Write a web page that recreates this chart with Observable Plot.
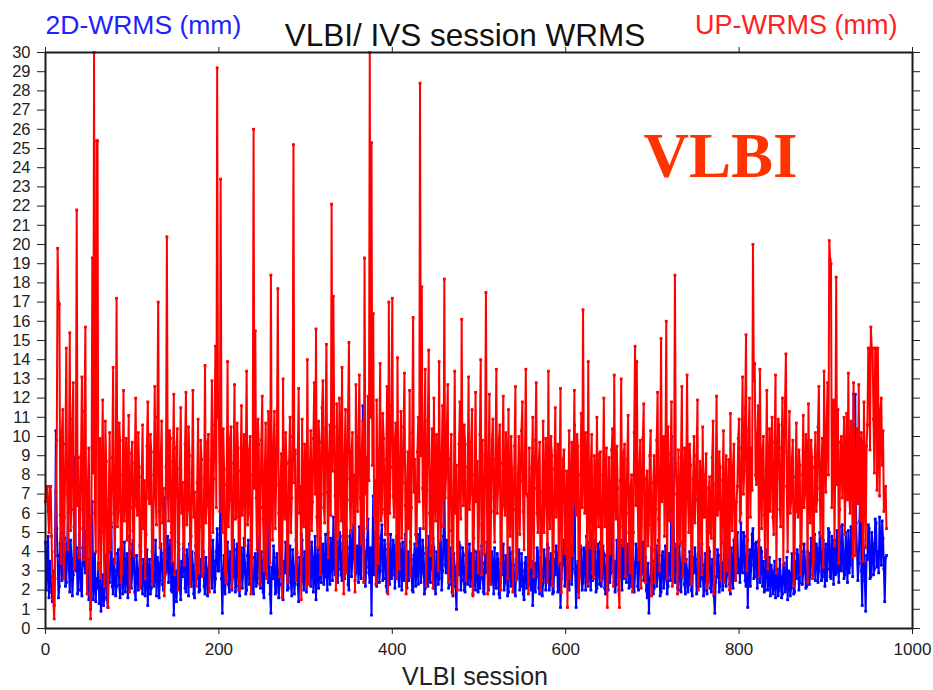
<!DOCTYPE html>
<html>
<head>
<meta charset="utf-8">
<script src="https://cdn.jsdelivr.net/npm/d3@7"></script>
<script src="https://cdn.jsdelivr.net/npm/@observablehq/plot@0.6"></script>
<style>
  html, body { margin: 0; padding: 0; background: #fff; }
  #chart { width: 933px; height: 690px; }
</style>
</head>
<body>
<div id="chart"></div>
<script>
// One value per VLBI session, sessions 0..970
const sessionStep = 1;

// UP-WRMS (mm), red series
const upWrms = [
  6.6,7.4, 7.4,6.1, 5.0,7.4, 7.4,4.8, 2.5,1.6, 0.5,2.6, 7.1,9.8, 19.8,17.0, 16.9,5.9, 3.4,10.3,
  11.4,2.6, 5.8,9.6, 14.6,7.0, 4.1,8.3, 15.4,5.1, 6.2,10.9, 12.8,3.1, 3.3,7.9, 21.8,6.4, 8.9,3.7,
  5.2,9.0, 13.1,6.2, 3.6,11.3, 15.7,4.4, 1.8,7.6, 9.4,3.2, 0.5,5.8, 19.3,8.1, 30.0,6.0, 4.0,25.4,
  25.4,3.1, 6.8,9.9, 2.6,7.4, 11.9,5.0, 2.2,10.8, 8.7,3.9, 1.1,6.7, 10.2,4.1, 5.5,8.9, 13.6,6.0,
  3.4,8.2, 17.2,5.3, 6.1,10.7, 9.8,2.4, 2.9,8.0, 12.4,5.6, 7.0,9.9, 4.6,7.7, 11.1,1.9, 6.3,9.1,
  9.7,5.1, 3.8,8.6, 12.0,6.4, 5.9,10.2, 8.4,2.1, 2.4,7.9, 10.6,5.2, 7.7,2.6, 4.9,9.5, 11.8,6.8,
  6.5,10.1, 9.2,2.3, 3.1,8.0, 12.6,6.9, 5.4,11.0, 17.0,6.1, 4.2,9.0, 10.8,5.5, 7.3,1.7, 2.8,8.4,
  20.4,7.2, 5.6,10.3, 9.9,5.0, 3.5,8.7, 12.2,2.8, 6.9,9.4, 10.4,2.0, 4.4,8.3, 11.5,6.0, 7.6,4.4,
  3.3,9.6, 12.3,5.4, 6.2,10.5, 9.0,2.2, 4.8,8.1, 12.4,5.8, 7.1,4.3, 2.2,7.6, 10.9,2.9, 5.3,9.8,
  8.8,2.7, 3.0,7.8, 13.7,5.5, 6.4,9.7, 10.1,1.9, 4.5,8.8, 12.9,5.0, 7.8,10.6, 14.7,6.3, 29.2,11.0,
  11.2,6.1, 23.4,9.2, 5.0,10.4, 8.3,3.0, 2.4,7.5, 13.9,5.3, 6.7,9.9, 10.5,2.1, 3.9,8.6, 12.7,5.7,
  5.8,10.7, 9.4,2.5, 2.0,8.2, 11.6,5.9, 7.2,10.1, 4.3,8.9, 13.4,5.4, 6.0,9.3, 10.0,1.8, 3.6,8.0,
  26.0,7.3, 15.5,6.8, 4.1,10.9, 9.6,2.3, 6.3,9.8, 12.1,5.7, 3.0,8.4, 10.7,2.6, 5.1,11.3, 8.2,3.4,
  18.4,6.5, 4.6,9.5, 11.3,5.2, 7.5,10.6, 17.7,6.0, 2.7,7.4, 9.1,1.6, 13.0,6.2, 5.7,10.2, 8.6,2.4,
  3.9,8.7, 11.0,5.0, 6.8,10.0, 25.2,7.6, 9.3,2.5, 4.0,9.1, 12.5,6.0, 7.4,1.5, 10.9,5.8, 5.3,9.6,
  8.1,2.2, 14.0,6.9, 2.3,8.5, 10.3,5.1, 6.6,9.9, 12.8,7.0, 15.6,5.8, 4.2,10.8, 9.7,2.8, 7.0,11.5,
  12.9,6.3, 5.5,10.4, 14.8,7.1, 3.7,9.0, 10.6,5.9, 22.1,8.2, 17.3,10.5, 6.9,2.0, 11.7,7.3, 4.8,12.0,
  9.5,5.6, 13.6,7.2, 1.8,8.9, 11.4,2.9, 7.8,11.3, 14.9,6.7, 5.0,9.2, 10.2,5.4, 8.0,1.9, 12.7,7.9,
  6.1,10.0, 13.2,6.8, 4.4,9.4, 10.8,2.4, 19.3,7.0, 8.9,5.2, 12.1,7.7, 30.0,11.0, 25.3,8.5, 16.4,5.9,
  7.7,2.3, 11.9,7.0, 3.4,9.3, 13.8,5.6, 6.0,11.2, 9.9,6.2, 4.9,8.8, 12.6,1.8, 17.0,6.0, 8.4,11.6,
  17.2,6.9, 5.8,9.8, 10.7,2.6, 14.1,7.4, 3.1,8.6, 11.3,4.7, 7.6,10.5, 13.3,6.4, 1.8,7.5, 9.2,5.2,
  12.4,2.7, 6.3,10.2, 16.2,7.1, 8.8,4.9, 4.3,9.2, 11.0,6.6, 28.4,9.0, 17.8,7.3, 5.2,10.0, 13.5,2.2,
  7.2,10.8, 14.5,6.0, 3.8,8.1, 10.4,2.1, 12.0,7.3, 5.6,10.1, 9.0,3.0, 13.9,7.6, 4.6,8.9, 11.6,5.3,
  18.2,6.8, 7.9,10.5, 12.7,2.4, 5.1,8.8, 10.1,4.5, 1.8,7.2, 13.4,6.0, 8.5,2.0, 4.0,9.6, 11.8,5.7,
  16.1,7.8, 6.4,10.6, 9.6,2.5, 3.3,8.4, 13.1,6.2, 7.0,9.7, 11.4,1.7, 4.7,8.0, 12.3,6.6, 8.7,2.9,
  5.4,10.1, 14.0,2.8, 9.8,5.6, 3.9,9.0, 17.5,7.4, 1.8,8.3, 12.2,2.3, 6.8,9.8, 10.9,6.1, 4.5,8.8,
  13.5,6.0, 7.4,9.9, 10.6,2.0, 3.6,8.6, 12.1,6.4, 5.9,10.2, 9.1,2.6, 11.4,6.3, 4.8,10.0, 8.3,1.9,
  6.2,9.5, 12.6,2.5, 2.9,8.0, 10.0,4.9, 7.7,10.3, 11.8,6.1, 4.1,9.1, 13.5,7.0, 6.9,1.8, 9.4,6.2,
  3.2,8.4, 11.0,2.7, 7.3,9.8, 12.8,6.0, 5.0,8.7, 9.7,2.0, 2.5,7.1, 10.8,5.0, 6.4,9.9, 8.6,2.4,
  13.4,6.5, 5.2,10.0, 9.0,2.2, 4.0,8.3, 11.5,5.8, 7.5,9.6, 3.4,7.9, 12.5,1.9, 6.1,8.8, 9.3,3.9,
  4.6,8.2, 1.1,6.4, 10.3,2.6, 7.0,9.7, 3.8,7.3, 12.4,6.8, 5.9,10.1, 9.5,1.6, 2.7,8.0, 11.2,6.3,
  16.6,8.1, 6.0,10.2, 8.4,2.3, 13.9,6.6, 4.2,8.5, 10.1,2.9, 2.6,9.0, 7.8,4.2, 11.0,6.9, 5.3,9.1,
  9.2,2.5, 3.5,8.0, 12.0,5.3, 6.6,9.4, 1.1,6.2, 8.9,3.9, 4.8,9.3, 10.4,2.2, 13.2,7.0, 5.7,9.5,
  7.3,2.0, 1.1,7.7, 13.0,6.1, 4.3,9.2, 9.6,2.7, 6.0,8.8, 11.1,5.0, 2.9,7.4, 8.0,1.9, 5.0,10.2,
  14.7,6.4, 13.9,7.1, 3.6,8.5, 9.8,2.1, 6.5,9.9, 11.7,2.8, 2.4,7.8, 8.2,4.3, 5.4,9.0, 10.3,1.7,
  4.1,7.6, 9.0,2.4, 6.2,9.8, 12.3,5.7, 3.0,8.3, 15.1,6.6, 7.4,10.0, 4.8,8.4, 16.0,2.6, 10.5,6.1,
  5.6,9.1, 11.8,2.2, 2.8,7.9, 18.4,8.6, 7.0,1.8, 9.3,6.1, 4.4,8.9, 12.6,2.7, 6.3,9.4, 3.5,7.5,
  13.2,6.9, 5.0,9.6, 8.5,2.3, 3.2,7.8, 10.0,5.5, 6.7,9.0, 11.9,2.0, 4.0,8.7, 7.6,2.8, 10.5,5.8,
  5.8,8.0, 9.1,2.1, 2.6,7.3, 7.9,5.0, 4.7,8.9, 10.8,1.8, 3.4,7.5, 12.1,5.9, 6.2,9.2, 8.4,2.5,
  4.5,7.7, 10.3,2.4, 6.8,9.0, 3.0,6.3, 8.8,2.0, 11.2,6.8, 5.1,8.5, 9.6,4.7, 2.5,6.6, 7.4,9.9,
  10.9,5.6, 6.0,9.4, 13.1,7.0, 8.2,11.5, 15.3,3.0, 4.6,10.3, 12.0,5.8, 9.4,7.2, 20.0,12.9, 13.8,8.0,
  7.5,10.1, 11.6,2.7, 13.5,8.7, 5.2,9.1, 10.0,5.9, 3.7,8.2, 12.4,3.1, 8.0,10.4, 6.1,9.3, 11.0,5.8,
  4.9,9.7, 13.2,2.9, 7.8,10.9, 10.6,6.2, 5.3,9.4, 12.0,3.3, 9.2,11.8, 14.3,7.4, 4.0,8.6, 11.3,6.0,
  6.6,8.9, 9.8,2.2, 3.9,7.9, 10.7,6.1, 5.8,9.3, 8.5,2.8, 4.4,8.0, 11.1,6.3, 7.0,10.1, 9.3,2.4,
  11.7,7.0, 5.5,9.8, 8.9,2.6, 3.6,8.4, 10.2,6.1, 6.7,10.5, 12.6,7.3, 4.8,8.6, 9.9,3.2, 13.4,9.2,
  7.1,10.6, 12.8,8.0, 20.2,19.2, 19.0,6.3, 9.6,11.9, 4.3,8.8, 18.3,7.5, 11.4,3.4, 6.2,9.7, 10.0,6.8,
  8.3,11.0, 4.9,8.6, 11.2,6.7, 13.3,7.2, 6.0,10.8, 9.5,3.7, 12.8,8.1, 3.8,9.0, 10.4,6.5, 12.7,7.0,
  5.6,10.2, 9.0,3.5, 11.8,8.0, 4.2,9.5, 10.6,14.6, 14.6,9.3, 15.7,14.6, 14.6,10.9, 8.1,14.6, 14.6,7.2,
  14.6,9.8, 6.9,11.4, 12.0,8.5, 10.3,6.1, 7.0,7.4, 5.2
];

// 2D-WRMS (mm), blue series
const hzWrms = [
  4.5,2.0, 3.3,4.8, 1.6,3.5, 2.7,1.9, 1.4,3.0, 1.2,4.0, 10.3,5.2, 3.8,1.6, 2.2,4.4, 5.6,2.5,
  3.1,5.0, 4.7,2.2, 2.4,4.4, 6.0,3.1, 1.9,4.6, 3.6,1.7, 2.8,5.3, 8.9,3.0, 4.2,1.8, 2.0,4.9,
  3.4,2.0, 1.7,4.2, 7.3,3.3, 2.9,5.1, 4.5,2.4, 1.5,3.6, 1.0,2.8, 6.6,1.5, 2.3,3.9, 1.4,2.6,
  2.1,3.4, 1.3,2.5, 0.9,1.9, 2.8,1.2, 1.6,3.8, 3.2,1.5, 1.1,2.9, 2.4,4.0, 5.3,2.2, 1.8,3.6,
  3.0,1.7, 2.2,3.9, 4.1,2.3, 1.6,4.2, 3.5,1.8, 2.7,4.5, 1.9,3.1, 3.9,1.6, 2.5,4.8, 4.4,2.1,
  2.9,4.6, 3.7,1.9, 1.5,3.8, 3.1,2.0, 2.4,4.3, 4.0,2.2, 1.8,3.6, 3.3,1.7, 2.6,4.1, 1.2,3.0,
  3.6,1.8, 2.1,4.0, 4.3,2.2, 2.8,4.6, 1.7,3.7, 3.4,1.6, 2.5,4.4, 3.9,2.3, 2.0,4.7, 6.8,2.9,
  3.2,4.8, 2.4,3.9, 4.6,2.0, 1.9,3.4, 0.7,2.6, 3.0,1.4, 2.3,4.5, 4.1,2.1, 1.5,3.5, 2.7,4.2,
  3.8,2.1, 1.9,4.1, 2.9,1.7, 4.4,2.5, 2.2,4.0, 3.3,1.8, 1.6,3.9, 2.6,4.4, 3.7,1.9, 2.0,3.6,
  2.8,4.5, 4.0,2.2, 1.8,3.7, 3.1,1.7, 2.4,4.1, 4.8,2.9, 2.1,4.6, 3.5,1.9, 2.6,4.0, 5.2,3.0,
  3.0,4.9, 7.3,2.6, 0.8,2.9, 3.8,1.8, 2.5,4.2, 4.5,2.3, 1.9,4.0, 3.2,2.0, 2.7,4.6, 4.1,1.9,
  2.2,4.4, 3.6,2.0, 1.7,3.9, 4.2,2.1, 2.9,4.7, 3.4,1.8, 2.0,3.8, 4.6,2.3, 2.6,4.3, 3.1,1.9,
  1.8,3.7, 3.9,2.2, 2.4,4.5, 4.7,2.6, 2.1,4.0, 3.3,1.9, 1.6,3.9, 2.8,5.0, 8.2,2.4, 3.5,1.8,
  0.8,3.2, 2.6,4.3, 3.7,1.8, 1.9,3.9, 3.0,1.6, 2.3,4.4, 4.0,2.2, 1.5,3.5, 2.9,4.5, 3.6,2.0,
  2.1,3.9, 4.3,2.4, 1.7,4.1, 3.2,1.8, 2.5,4.6, 3.9,2.3, 1.4,3.7, 2.8,4.9, 4.6,2.5, 2.0,4.0,
  3.4,1.9, 2.6,4.4, 4.9,2.7, 2.2,4.5, 3.7,1.9, 2.9,4.8, 1.5,3.3, 4.1,2.1, 3.0,4.7, 2.4,3.9,
  4.4,2.3, 2.7,4.9, 3.6,2.0, 5.0,3.1, 2.3,4.7, 3.9,2.5, 5.8,3.4, 2.8,5.2, 4.5,2.4, 3.1,5.0,
  4.8,2.8, 2.5,4.4, 5.5,2.6, 3.3,5.2, 4.2,2.3, 2.0,4.8, 5.1,2.7, 3.6,5.4, 4.6,2.5, 2.9,4.3,
  3.8,2.4, 5.3,3.0, 2.6,4.9, 11.6,5.0, 4.0,2.2, 3.2,4.6, 5.7,2.9, 2.4,4.2, 0.7,3.8, 6.9,2.8,
  3.5,5.0, 2.2,4.1, 4.7,2.4, 3.0,4.8, 5.4,2.5, 2.6,4.6, 4.1,2.2, 1.9,4.4, 3.7,2.3, 4.9,2.6,
  2.8,4.6, 4.3,2.1, 3.1,4.8, 5.0,2.6, 2.2,4.4, 3.8,2.0, 4.5,2.7, 2.5,4.9, 3.4,2.1, 4.0,2.5,
  2.7,4.5, 3.6,2.0, 1.9,3.8, 4.4,2.2, 3.2,4.9, 2.3,4.0, 5.2,2.4, 2.9,4.6, 3.9,1.8, 2.1,4.2,
  3.5,2.2, 4.8,2.7, 2.4,4.3, 3.1,4.7, 4.2,2.1, 1.8,4.0, 3.7,2.3, 2.6,4.4, 4.5,2.0, 3.0,4.8,
  8.1,3.3, 2.9,4.6, 4.0,2.1, 2.3,4.2, 3.6,1.9, 1.7,3.9, 3.2,2.2, 1.0,3.4, 2.8,4.5, 4.3,2.0,
  2.5,4.2, 3.8,2.0, 1.9,3.9, 4.6,2.3, 3.0,4.4, 2.2,3.9, 3.5,1.8, 4.1,2.4, 2.0,4.0, 3.3,1.9,
  4.0,2.1, 2.6,4.3, 3.4,1.9, 1.8,3.8, 2.9,4.5, 3.7,2.0, 5.4,2.7, 2.3,4.0, 3.1,1.8, 4.2,2.4,
  2.1,3.9, 3.6,1.8, 1.6,3.4, 2.8,4.1, 4.4,2.0, 2.4,3.8, 3.2,1.7, 1.9,4.2, 3.9,2.2, 2.7,4.0,
  3.3,1.9, 1.7,3.6, 2.6,4.0, 4.1,2.0, 2.2,3.9, 3.0,1.8, 1.5,3.4, 3.7,2.1, 2.5,4.2, 4.5,2.3,
  2.0,3.5, 1.2,2.6, 3.4,1.9, 2.7,4.2, 4.0,2.1, 1.8,3.7, 3.1,1.7, 2.4,4.1, 3.6,2.0, 2.9,4.4,
  4.2,2.0, 2.3,3.9, 3.5,1.8, 1.9,3.6, 2.8,4.3, 3.9,1.9, 2.1,3.4, 1.1,2.6, 3.3,4.0, 4.6,2.2,
  2.6,4.1, 3.8,2.1, 2.0,3.9, 4.4,2.3, 3.1,4.8, 10.6,2.9, 1.1,3.2, 3.5,1.9, 2.7,4.3, 4.1,2.0,
  2.4,4.2, 3.7,2.0, 4.8,2.6, 2.2,4.5, 3.3,2.0, 5.1,2.5, 2.8,4.6, 4.0,1.9, 2.1,4.4, 3.6,2.3,
  4.5,2.2, 2.6,4.3, 3.9,2.1, 1.8,3.8, 3.2,2.0, 4.7,2.4, 2.9,4.9, 7.6,3.0, 3.5,1.9, 2.3,4.6,
  4.2,2.3, 2.7,4.6, 3.6,2.0, 5.3,2.6, 6.5,3.1, 2.4,4.4, 3.9,2.1, 4.8,2.5, 2.2,4.3, 3.4,1.9,
  2.9,4.4, 4.1,2.2, 2.0,4.0, 6.6,2.8, 3.0,4.5, 2.5,4.1, 3.7,2.0, 1.6,3.4, 0.8,2.5, 2.7,4.2,
  3.5,1.8, 2.1,4.0, 4.3,2.2, 2.8,4.6, 3.3,1.7, 1.9,3.8, 4.0,2.1, 2.6,4.3, 3.1,1.8, 2.2,3.9,
  3.8,2.5, 10.0,4.6, 7.0,3.9, 2.4,4.1, 4.4,2.1, 2.0,4.3, 3.4,1.9, 2.8,4.5, 4.1,2.3, 1.8,3.6,
  3.0,1.9, 2.3,4.0, 3.9,2.0, 1.7,3.7, 2.9,4.2, 3.6,1.8, 2.1,3.9, 4.2,2.2, 2.6,4.4, 3.3,1.7,
  2.0,3.9, 3.5,1.8, 2.5,4.2, 4.0,2.1, 1.9,3.6, 3.1,1.7, 0.8,2.4, 2.7,4.1, 3.8,1.9, 2.2,3.8,
  3.4,2.0, 2.4,4.4, 4.3,2.2, 2.8,4.5, 3.7,2.3, 1.8,4.2, 3.0,2.1, 4.6,2.6, 2.5,4.7, 5.0,2.9,
  3.6,2.4, 5.5,3.1, 2.9,5.0, 4.8,2.5, 2.2,4.3, 1.1,3.4, 4.1,2.2, 3.3,4.9, 5.2,2.6, 2.7,4.4,
  4.5,2.1, 3.2,4.6, 2.4,4.2, 4.0,2.2, 3.5,1.9, 2.0,4.1, 3.8,2.0, 2.6,3.7, 1.7,3.3, 3.0,1.8,
  2.3,3.5, 1.6,2.8, 3.1,1.7, 2.0,3.6, 2.7,1.6, 1.8,3.3, 3.4,1.9, 2.2,3.7, 1.5,3.0, 2.9,1.7,
  2.1,3.9, 3.3,1.8, 1.9,3.5, 2.6,4.1, 3.8,2.0, 2.4,4.3, 4.0,2.3, 2.9,4.4, 3.5,2.1, 2.2,4.0,
  3.9,2.3, 2.8,4.7, 4.5,2.6, 3.2,4.9, 2.5,4.4, 4.2,2.4, 3.0,5.0, 4.8,2.5, 2.7,4.6, 3.6,2.2,
  4.4,2.5, 3.1,5.2, 5.0,2.7, 2.6,4.8, 3.8,2.3, 4.6,2.8, 2.9,5.1, 3.4,2.4, 5.3,3.1, 3.0,5.4,
  4.1,2.6, 2.8,5.0, 3.7,2.4, 5.1,2.9, 3.3,5.3, 4.5,2.7, 12.2,4.8, 12.2,5.5, 4.0,2.5, 3.4,5.6,
  9.9,3.0, 1.2,4.6, 4.2,2.5, 0.9,3.8, 3.6,5.4, 5.2,2.6, 2.7,5.0, 4.4,2.8, 3.1,5.7, 5.5,3.2,
  4.0,2.9, 5.8,4.2, 3.3,5.6, 4.7,3.1, 1.4,3.7, 3.8
];

// Axis ticks
const xTicks = [0, 200, 400, 600, 800, 1000];
const yTicks = [0, 1, 2, 3, 4, 5, 6, 7, 8, 9, 10, 11, 12, 13, 14, 15, 16, 17, 18, 19, 20, 21, 22, 23, 24, 25, 26, 27, 28, 29, 30];

// Texts
const titleText = "VLBI/ IVS session WRMS";
const leftLabel = "2D-WRMS (mm)";
const rightLabel = "UP-WRMS (mm)";
const xLabel = "VLBI session";
const stampText = "VLBI";

const redRows = upWrms.map((v, i) => ({session: i * sessionStep, value: v}));
const blueRows = hzWrms.map((v, i) => ({session: i * sessionStep, value: v}));

const sans = "'Liberation Sans', Arial, Helvetica, sans-serif";

const chart = Plot.plot({
  width: 933,
  height: 690,
  marginLeft: 45,
  marginRight: 21,
  marginTop: 52,
  marginBottom: 62,
  style: {fontFamily: sans, background: "#fff", overflow: "visible"},
  x: {domain: [0, 1000]},
  y: {domain: [0, 30]},
  marks: [
    Plot.line(blueRows, {x: "session", y: "value", stroke: "#0000ff", strokeWidth: 2}),
    Plot.dot(blueRows, {x: "session", y: "value", symbol: "square", r: 1.6, fill: "#0000ff", stroke: null}),
    Plot.line(redRows, {x: "session", y: "value", stroke: "#ff0000", strokeWidth: 2}),
    Plot.dot(redRows, {x: "session", y: "value", symbol: "square", r: 1.6, fill: "#ff0000", stroke: null}),
    Plot.frame({stroke: "#1a1a1a", strokeWidth: 2}),
    Plot.axisY({anchor: "left", ticks: yTicks, tickSize: 8, tickPadding: 7, fontSize: 16.5, color: "#222", label: null}),
    Plot.axisY({anchor: "right", ticks: yTicks, tickSize: 7, tickFormat: () => "", color: "#222", label: null}),
    Plot.axisX({anchor: "bottom", ticks: xTicks, tickSize: 6, tickPadding: 8, fontSize: 17, color: "#222", label: null, tickFormat: d => String(d)}),
    Plot.axisX({anchor: "top", ticks: xTicks, tickSize: 6, tickFormat: () => "", color: "#222", label: null}),
    Plot.text([titleText], {frameAnchor: "top", dx: -14, dy: -7, lineAnchor: "bottom", fontSize: 31.5, fill: "#111", fontFamily: sans}),
    Plot.text([leftLabel], {frameAnchor: "top-left", dx: 0, dy: -19, lineAnchor: "bottom", textAnchor: "start", fontSize: 26.5, fill: "#2222ff", fontFamily: sans}),
    Plot.text([rightLabel], {frameAnchor: "top-right", dx: -15, dy: -19, lineAnchor: "bottom", textAnchor: "end", fontSize: 27, fill: "#ff2222", fontFamily: sans}),
    Plot.text([xLabel], {frameAnchor: "bottom", dx: -4, dy: 56, lineAnchor: "bottom", fontSize: 25, fill: "#222", fontFamily: sans}),
    Plot.text([stampText], {frameAnchor: "top-right", dx: -115, dy: 124, lineAnchor: "bottom", textAnchor: "end", fontSize: 63, fontWeight: "bold", fill: "#ff3300", fontFamily: "'Liberation Serif', 'Times New Roman', serif"})
  ]
});

document.getElementById("chart").appendChild(chart);
</script>
</body>
</html>
